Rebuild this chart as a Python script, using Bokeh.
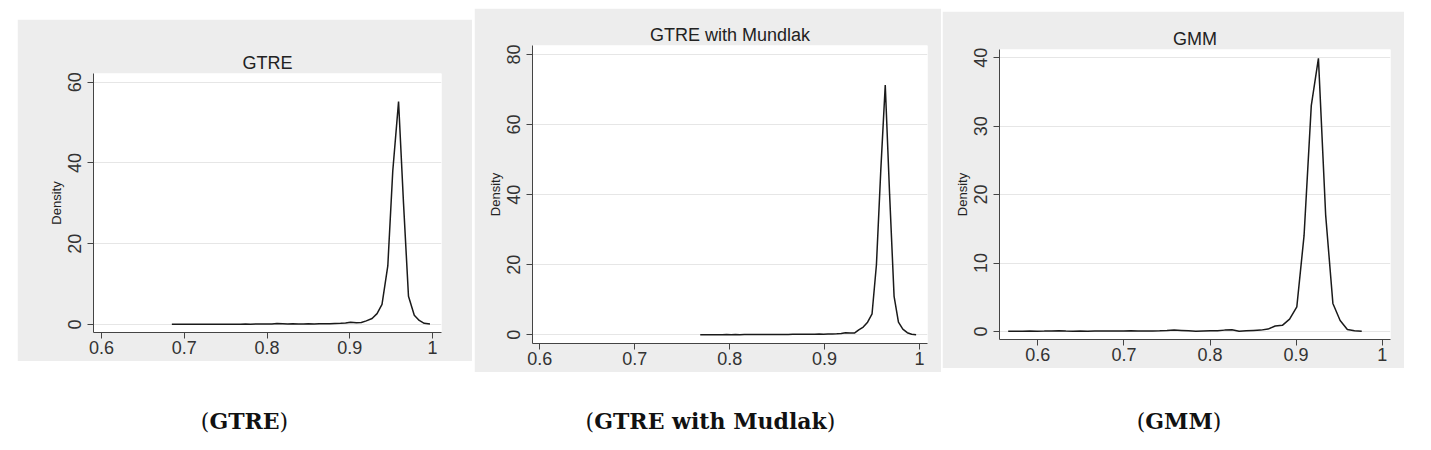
from bokeh.plotting import figure
from bokeh.layouts import row, column
from bokeh.models import Range1d, FixedTicker, Spacer, Div
from bokeh.embed import file_html
from bokeh.resources import INLINE

# ---------------- data ----------------
titles = ["GTRE", "GTRE with Mundlak", "GMM"]
caption_names = ["GTRE", "GTRE with Mudlak", "GMM"]
y_label = "Density"

x_ticks = [0.6, 0.7, 0.8, 0.9, 1.0]
x_tick_labels = ["0.6", "0.7", "0.8", "0.9", "1"]

gtre_y_ticks = [0, 20, 40, 60]
mundlak_y_ticks = [0, 20, 40, 60, 80]
gmm_y_ticks = [0, 10, 20, 30, 40]

gtre_x = [0.685, 0.691, 0.698, 0.704, 0.710, 0.717, 0.723, 0.730, 0.736, 0.742,
          0.749, 0.755, 0.761, 0.768, 0.774, 0.780, 0.787, 0.793, 0.800, 0.806,
          0.812, 0.819, 0.825, 0.831, 0.838, 0.844, 0.850, 0.857, 0.863, 0.870,
          0.876, 0.882, 0.889, 0.895, 0.901, 0.908, 0.914, 0.920, 0.927, 0.933,
          0.939, 0.946, 0.952, 0.959, 0.965, 0.971, 0.978, 0.984, 0.990, 0.997]
gtre_y = [0.05, 0.05, 0.05, 0.04, 0.05, 0.06, 0.05, 0.06, 0.05, 0.06,
          0.07, 0.08, 0.07, 0.08, 0.10, 0.09, 0.10, 0.12, 0.10, 0.15,
          0.25, 0.20, 0.15, 0.20, 0.12, 0.15, 0.20, 0.15, 0.18, 0.20,
          0.20, 0.25, 0.30, 0.35, 0.55, 0.45, 0.50, 0.90, 1.5, 2.7,
          5.0, 14.5, 38.0, 55.2, 30.0, 7.0, 2.3, 1.0, 0.3, 0.1]

mundlak_x = [0.7690, 0.7736, 0.7783, 0.7829, 0.7876, 0.7922, 0.7968, 0.8015, 0.8061, 0.8108,
             0.8154, 0.8200, 0.8247, 0.8293, 0.8340, 0.8386, 0.8432, 0.8479, 0.8525, 0.8572,
             0.8618, 0.8664, 0.8711, 0.8757, 0.8804, 0.8850, 0.8896, 0.8943, 0.8989, 0.9036,
             0.9082, 0.9128, 0.9175, 0.9221, 0.9268, 0.9314, 0.9360, 0.9407, 0.9453, 0.9500,
             0.9546, 0.9592, 0.9639, 0.9685, 0.9732, 0.9778, 0.9824, 0.9871, 0.9917, 0.9964]
mundlak_y = [0.03, 0.04, 0.03, 0.05, 0.04, 0.05, 0.06, 0.05, 0.06, 0.05,
             0.07, 0.06, 0.08, 0.07, 0.09, 0.08, 0.10, 0.09, 0.12, 0.10,
             0.12, 0.14, 0.15, 0.13, 0.16, 0.18, 0.15, 0.20, 0.18, 0.22,
             0.25, 0.30, 0.40, 0.60, 0.55, 0.50, 1.4, 2.2, 3.6, 6.0,
             20.0, 47.0, 71.3, 40.0, 11.0, 3.6, 1.6, 0.6, 0.15, 0.05]

gmm_x = [0.5656, 0.5740, 0.5824, 0.5907, 0.5991, 0.6075, 0.6159, 0.6243, 0.6326, 0.6410,
         0.6494, 0.6578, 0.6662, 0.6745, 0.6829, 0.6913, 0.6997, 0.7081, 0.7164, 0.7248,
         0.7332, 0.7416, 0.7500, 0.7583, 0.7667, 0.7751, 0.7835, 0.7919, 0.8002, 0.8086,
         0.8170, 0.8254, 0.8338, 0.8421, 0.8505, 0.8589, 0.8673, 0.8757, 0.8840, 0.8924,
         0.9008, 0.9092, 0.9176, 0.9259, 0.9343, 0.9427, 0.9511, 0.9595, 0.9678, 0.9762]
gmm_y = [0.05, 0.04, 0.05, 0.06, 0.05, 0.06, 0.08, 0.10, 0.07, 0.05,
         0.06, 0.05, 0.06, 0.07, 0.06, 0.08, 0.09, 0.10, 0.08, 0.07,
         0.08, 0.10, 0.15, 0.20, 0.15, 0.10, 0.05, 0.08, 0.10, 0.12,
         0.20, 0.25, 0.05, 0.10, 0.15, 0.20, 0.35, 0.80, 0.90, 1.8,
         3.6, 14.0, 33.0, 39.9, 17.0, 4.1, 1.6, 0.3, 0.1, 0.02]

# ---------------- styling ----------------
PANEL_BG = "#ededed"
FONT = "Liberation Sans"


def make_panel(title, xs, ys, yticks, width, height, borders, xr, yr, title_standoff):
    left, right, top, bottom = borders
    p = figure(width=width, height=height, output_backend="svg", toolbar_location=None,
               tools="", x_range=Range1d(*xr), y_range=Range1d(*yr),
               min_border_left=left, min_border_right=right,
               min_border_top=top, min_border_bottom=bottom,
               background_fill_color="white", border_fill_color=PANEL_BG,
               outline_line_color=None)
    p.title.text = title
    p.title.align = "center"
    p.title.text_font = FONT
    p.title.text_font_size = "18px"
    p.title.text_font_style = "normal"
    p.title.text_color = "#222222"
    p.title.standoff = title_standoff

    p.line(xs, ys, line_color="#1a1a1a", line_width=1.5)

    xa = p.xaxis[0]
    xa.ticker = FixedTicker(ticks=x_ticks)
    xa.major_label_overrides = {t: s for t, s in zip(x_ticks, x_tick_labels)}
    ya = p.yaxis[0]
    ya.ticker = FixedTicker(ticks=yticks)
    ya.major_label_orientation = "vertical"
    ya.axis_label = y_label
    ya.axis_label_text_font = FONT
    ya.axis_label_text_font_size = "13px"
    ya.axis_label_text_font_style = "normal"
    ya.axis_label_text_color = "#222222"
    ya.axis_label_standoff = 2
    for ax in (xa, ya):
        ax.axis_line_color = "#444444"
        ax.axis_line_width = 1
        ax.major_tick_line_color = "#444444"
        ax.major_tick_out = 6
        ax.major_tick_in = 0
        ax.minor_tick_out = 0
        ax.minor_tick_in = 0
        ax.major_label_text_font = FONT
        ax.major_label_text_font_size = "18px"
        ax.major_label_text_color = "#333333"
    xa.major_label_standoff = 2
    ya.major_label_standoff = 6
    p.xgrid.grid_line_color = None
    p.ygrid.ticker = FixedTicker(ticks=yticks)
    p.ygrid.grid_line_color = "#e6e6e6"
    p.ygrid.grid_line_width = 1
    return p


p1 = make_panel(titles[0], gtre_x, gtre_y, gtre_y_ticks, 455, 342,
                (76, 31, 54, 29), (0.5903, 1.0109), (-1.98, 62.15), 1)
p2 = make_panel(titles[1], mundlak_x, mundlak_y, mundlak_y_ticks, 467, 364,
                (58, 14, 37, 29), (0.5923, 1.0084), (-2.48, 82.57), 2)
p3 = make_panel(titles[2], gmm_x, gmm_y, gmm_y_ticks, 462, 357,
                (57, 14, 38, 29), (0.5555, 1.0096), (-1.17, 41.2), 2)

panels = row(
    Spacer(width=17, height=10),
    column(Spacer(width=455, height=11), p1),
    Spacer(width=2, height=10),
    p2,
    Spacer(width=1, height=10),
    column(Spacer(width=462, height=3), p3),
)


def caption(name, width):
    return Div(text="(<b>%s</b>)" % name, width=width, height=30, margin=0,
               styles={"font-family": "DejaVu Serif", "font-size": "22px",
                       "text-align": "center", "color": "#111111",
                       "line-height": "26px"})


caps = row(
    Spacer(width=17, height=30),
    caption(caption_names[0], 455),
    Spacer(width=5, height=30),
    caption(caption_names[1], 467),
    Spacer(width=4, height=30),
    caption(caption_names[2], 462),
)

layout = column(Spacer(width=10, height=8), panels, Spacer(width=10, height=36), caps)

open("out.html", "w").write(file_html(layout, INLINE))
